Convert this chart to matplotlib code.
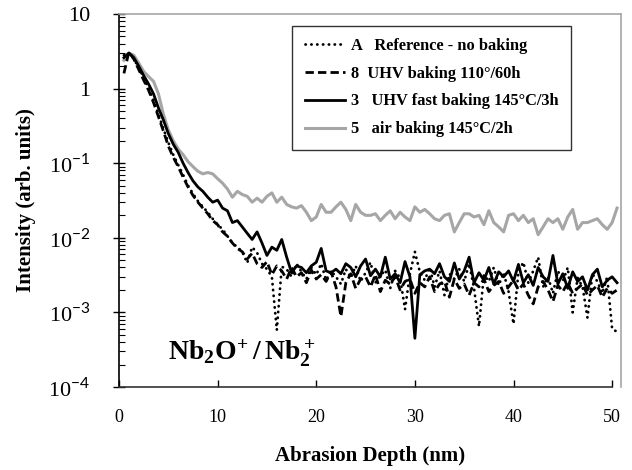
import numpy as np
import matplotlib
matplotlib.use("Agg")
import matplotlib.pyplot as plt
from matplotlib.ticker import FixedLocator, FixedFormatter, LogLocator, NullFormatter

plt.rcParams['font.family'] = ['Liberation Serif', 'DejaVu Serif']
plt.rcParams['mathtext.fontset'] = 'custom'
plt.rcParams['mathtext.rm'] = 'Lato'
plt.rcParams['mathtext.bf'] = 'Liberation Serif:bold'

# abrasion depth (nm), same grid for every sample
depth = np.arange(1, 102) * 0.5

# A  reference - no baking (dotted)
ref_A = [2.8, 3.0, 2.5, 1.9, 1.4, 1.0, 0.7, 0.45, 0.29, 0.19,
         0.13, 0.095, 0.07, 0.05, 0.039, 0.031, 0.026, 0.022, 0.018, 0.015,
         0.013, 0.0105, 0.0085, 0.0075, 0.0065, 0.0046, 0.0075, 0.0063, 0.0045, 0.0038,
         0.0030, 0.00058, 0.0041, 0.0038, 0.0030, 0.0045, 0.0035, 0.0028, 0.0040, 0.0032,
         0.0045, 0.0027, 0.0036, 0.0030, 0.0024, 0.0038, 0.0029, 0.0042, 0.0026, 0.0034,
         0.0047, 0.0025, 0.0031, 0.0037, 0.0021, 0.0036, 0.0029, 0.0011, 0.0033, 0.0065,
         0.0035, 0.0027, 0.0040, 0.0022, 0.0036, 0.0017, 0.0033, 0.0028, 0.0038, 0.0026,
         0.0045, 0.0021, 0.00065, 0.0032, 0.0026, 0.0040, 0.0023, 0.0034, 0.0019, 0.00070,
         0.0035, 0.0047, 0.0025, 0.0036, 0.0055, 0.0022, 0.0030, 0.0018, 0.0036, 0.0026,
         0.0040, 0.0010, 0.0029, 0.0022, 0.00085, 0.0033, 0.0026, 0.0018, 0.0030, 0.00060,
         0.00055]

# 8  UHV baking 110/60h (dashed)
uhv_8 = [1.6, 3.1, 2.5, 1.8, 1.3, 0.95, 0.65, 0.42, 0.27, 0.17,
         0.12, 0.09, 0.065, 0.048, 0.037, 0.030, 0.025, 0.021, 0.017, 0.015,
         0.012, 0.0105, 0.0085, 0.0072, 0.0065, 0.0052, 0.0062, 0.0045, 0.0040, 0.0048,
         0.0032, 0.0042, 0.0036, 0.0028, 0.0040, 0.0030, 0.0034, 0.0025, 0.0037, 0.0028,
         0.0032, 0.0026, 0.0035, 0.0022, 0.00088, 0.0025, 0.0033, 0.0021, 0.0028, 0.0030,
         0.0022, 0.0032, 0.0019, 0.0027, 0.0024, 0.0030, 0.0020, 0.0026, 0.0028, 0.0018,
         0.0025, 0.0022, 0.0030, 0.0019, 0.0024, 0.0026, 0.0016, 0.0028, 0.0021, 0.0024,
         0.0017, 0.0025, 0.0022, 0.0028, 0.0019, 0.0023, 0.0026, 0.0018, 0.0022, 0.0027,
         0.0020, 0.0024, 0.0017, 0.0013, 0.0022, 0.0026, 0.0020, 0.0014, 0.0023, 0.0019,
         0.0025, 0.0018, 0.0021, 0.0024, 0.0017, 0.0020, 0.0023, 0.0016, 0.0021, 0.0018,
         0.0020]

# 3  UHV fast baking 145C/3h (solid black)
fast_3 = [2.6, 3.0, 2.6, 2.0, 1.5, 1.15, 0.85, 0.55, 0.38, 0.25,
          0.18, 0.14, 0.10, 0.075, 0.058, 0.048, 0.042, 0.035, 0.030, 0.032,
          0.025, 0.023, 0.016, 0.017, 0.014, 0.0115, 0.0095, 0.012, 0.0085, 0.0058,
          0.0075, 0.0068, 0.0095, 0.0055, 0.0034, 0.0042, 0.0040, 0.0034, 0.0042, 0.0047,
          0.0072, 0.0036, 0.0034, 0.0038, 0.0033, 0.0045, 0.0040, 0.0030, 0.0042, 0.0052,
          0.0031, 0.0038, 0.0030, 0.0055, 0.0028, 0.0033, 0.0025, 0.0048, 0.0030, 0.00045,
          0.0032, 0.0036, 0.0038, 0.0033, 0.0045, 0.0030, 0.0026, 0.0046, 0.0028, 0.0036,
          0.0055, 0.0025, 0.0034, 0.0027, 0.0040, 0.0024, 0.0035, 0.0030, 0.0036, 0.0026,
          0.0044, 0.0025, 0.0032, 0.0023, 0.0040, 0.0030, 0.0026, 0.0058, 0.0024, 0.0033,
          0.0021, 0.0035, 0.0026, 0.0030, 0.0020, 0.0032, 0.0038, 0.0022, 0.0027, 0.0030,
          0.0025]

# 5  air baking 145C/2h (grey)
air_5 = [2.4, 3.0, 2.8, 2.2, 1.7, 1.45, 1.25, 0.85, 0.45, 0.28,
         0.20, 0.155, 0.13, 0.105, 0.09, 0.078, 0.072, 0.075, 0.072, 0.062,
         0.054, 0.045, 0.035, 0.042, 0.038, 0.036, 0.030, 0.034, 0.030, 0.036,
         0.040, 0.030, 0.035, 0.028, 0.026, 0.025, 0.027, 0.022, 0.017, 0.019,
         0.028, 0.022, 0.022, 0.026, 0.030, 0.024, 0.017, 0.028, 0.022, 0.020,
         0.020, 0.021, 0.017, 0.020, 0.023, 0.018, 0.022, 0.019, 0.017, 0.026,
         0.022, 0.024, 0.021, 0.018, 0.017, 0.020, 0.021, 0.012, 0.016, 0.021,
         0.021, 0.019, 0.020, 0.015, 0.023, 0.016, 0.014, 0.012, 0.020, 0.021,
         0.017, 0.020, 0.016, 0.018, 0.011, 0.014, 0.018, 0.016, 0.018, 0.013,
         0.019, 0.024, 0.013, 0.016, 0.016, 0.017, 0.018, 0.015, 0.013, 0.016,
         0.025]

labels = ["A   Reference - no baking",
          "8  UHV baking 110°/60h",
          "3   UHV fast baking 145°C/3h",
          "5   air baking 145°C/2h"]

ytick_vals = [1e-4, 1e-3, 1e-2, 1e-1, 1, 10]
ytick_txt = ['10$^{-4}$', '10$^{-3}$', '10$^{-2}$', '10$^{-1}$', '1', '10']

fig = plt.figure(figsize=(6.32, 4.70), dpi=100)
ax = fig.add_axes([0.1883, 0.1766, 0.7943, 0.7936])

ax.plot(depth, air_5, color='#a6a6a6', lw=2.2, zorder=2, label=labels[3])
ax.plot(depth, ref_A, color='black', lw=2.0, ls=(0, (0.1, 2.0)),
        dash_capstyle='round', zorder=3, label=labels[0])
ax.plot(depth, uhv_8, color='black', lw=2.0, ls=(0, (3.0, 1.5)), zorder=3, label=labels[1])
ax.plot(depth, fast_3, color='black', lw=2.0, zorder=4, label=labels[2])

ax.set_yscale('log')
ax.set_ylim(1e-4, 10)
ax.set_xlim(0, 50.9)

ax.yaxis.set_major_locator(FixedLocator(ytick_vals))
ax.yaxis.set_major_formatter(FixedFormatter(ytick_txt))
ax.yaxis.set_minor_locator(LogLocator(base=10, subs=np.arange(2, 10)))
ax.yaxis.set_minor_formatter(NullFormatter())
ax.set_xticks([0, 10, 20, 30, 40, 50])

ax.tick_params(axis='y', which='major', direction='inout', length=9, width=1.0, pad=16, labelsize=16)
ax.tick_params(axis='y', which='minor', direction='in', length=4, width=0.8)
ax.tick_params(axis='x', which='major', direction='in', length=5, width=1.0, pad=16, labelsize=13)

for spine in ['top', 'right']:
    ax.spines[spine].set_color('#a6a6a6')
    ax.spines[spine].set_linewidth(1.2)
ax.spines['left'].set_color('black')
ax.spines['bottom'].set_color('#333333')
ax.spines['bottom'].set_bounds(0, 50)
ax.spines['left'].set_linewidth(1.2)
ax.spines['bottom'].set_linewidth(1.2)

ax.set_xlabel('Abrasion Depth (nm)', fontsize=15, fontweight='bold', labelpad=14)
ax.set_ylabel('Intensity (arb. units)', fontsize=15, fontweight='bold', labelpad=9)

ax.text(0.098, 0.07, r'$\mathbf{Nb_2O^{\!+} / \, Nb_2^+}$', transform=ax.transAxes, fontsize=20)

handles, labs = ax.get_legend_handles_labels()
order = [1, 2, 3, 0]
leg = ax.legend([handles[i] for i in order], [labs[i] for i in order],
                loc='upper right', bbox_to_anchor=(0.917, 0.991),
                prop={'weight': 'bold', 'size': 11.8}, frameon=True, fancybox=False,
                edgecolor='black', handlelength=2.5, handletextpad=0.35,
                labelspacing=0.72, borderpad=0.75)
leg.get_frame().set_linewidth(1.0)

fig.savefig('out.png', dpi=100)
